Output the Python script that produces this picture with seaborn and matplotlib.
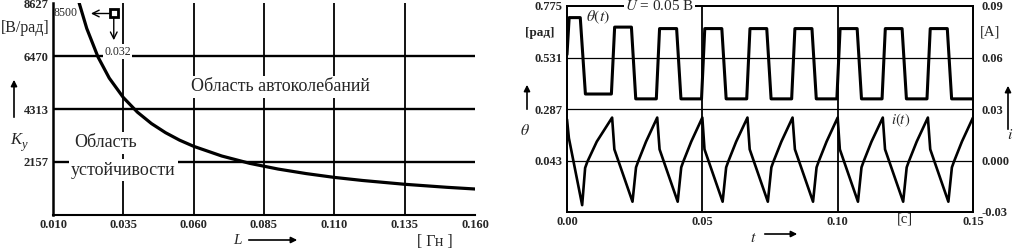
import matplotlib
matplotlib.use("Agg")
import matplotlib.pyplot as plt
import seaborn as sns
import pandas as pd

# --- левый график: K_y(L)
L_vals = [0.0193, 0.0220, 0.0260, 0.0300, 0.0350, 0.0400, 0.0450, 0.0500,
          0.0550, 0.0600, 0.0700, 0.0800, 0.0900, 0.1000, 0.1100, 0.1200,
          0.1350, 0.1500, 0.1600]
K_vals = [8627, 7590, 6430, 5570, 4780, 4185, 3720, 3350,
          3045, 2795, 2400, 2100, 1870, 1685, 1530, 1405,
          1250, 1127, 1058]
L_ticks = [0.010, 0.035, 0.060, 0.085, 0.110, 0.135, 0.160]
K_ticks = [2157, 4313, 6470, 8627]
point_L, point_K = 0.0316, 8200

# --- правый график: theta(t), i(t)
theta_t = [0.0000, 0.0008, 0.0049, 0.0068,
           0.0164, 0.0176, 0.0238, 0.0254,
           0.0330, 0.0342, 0.0405, 0.0421,
           0.0497, 0.0509, 0.0572, 0.0588,
           0.0664, 0.0676, 0.0738, 0.0754,
           0.0830, 0.0842, 0.0905, 0.0921,
           0.0997, 0.1009, 0.1072, 0.1088,
           0.1164, 0.1176, 0.1238, 0.1254,
           0.1330, 0.1342, 0.1405, 0.1421, 0.1500]
theta_v = [0.545, 0.720, 0.720, 0.358,
           0.358, 0.675, 0.675, 0.335,
           0.335, 0.668, 0.668, 0.335,
           0.335, 0.668, 0.668, 0.335,
           0.335, 0.668, 0.668, 0.335,
           0.335, 0.668, 0.668, 0.335,
           0.335, 0.668, 0.668, 0.335,
           0.335, 0.668, 0.668, 0.335,
           0.335, 0.668, 0.668, 0.335, 0.335]
i_t = [0.0000, 0.0007, 0.0056, 0.0067, 0.0075, 0.0110, 0.01667,
       0.0175, 0.0242, 0.0255, 0.0263, 0.0292, 0.03333,
       0.0342, 0.0409, 0.0422, 0.0430, 0.0459, 0.0500,
       0.0508, 0.0575, 0.0588, 0.0596, 0.0625, 0.06667,
       0.0675, 0.0742, 0.0755, 0.0763, 0.0792, 0.08333,
       0.0842, 0.0909, 0.0922, 0.0930, 0.0959, 0.1000,
       0.1008, 0.1075, 0.1088, 0.1096, 0.1125, 0.11667,
       0.1175, 0.1242, 0.1255, 0.1263, 0.1292, 0.13333,
       0.1342, 0.1409, 0.1422, 0.1430, 0.1459, 0.1500]
i_v = [0.024, 0.013, -0.026, -0.0043, -0.0008, 0.011, 0.025,
       0.0065, -0.024, -0.004, -0.0005, 0.011, 0.025,
       0.0065, -0.024, -0.004, -0.0005, 0.011, 0.025,
       0.0065, -0.024, -0.004, -0.0005, 0.011, 0.025,
       0.0065, -0.024, -0.004, -0.0005, 0.011, 0.025,
       0.0065, -0.024, -0.004, -0.0005, 0.011, 0.025,
       0.0065, -0.024, -0.004, -0.0005, 0.011, 0.025,
       0.0065, -0.024, -0.004, -0.0005, 0.011, 0.025,
       0.0065, -0.024, -0.004, -0.0005, 0.011, 0.025]
t_ticks = [0.00, 0.05, 0.10, 0.15]
theta_ticks = [0.043, 0.287, 0.531, 0.775]
i_ticks = [-0.03, 0.00, 0.03, 0.06, 0.09]
i_labels = ['-0.03', '0.000', '0.03', '0.06', '0.09']

sns.set_theme(style="white")
plt.rcParams['font.family'] = ['Liberation Serif', 'DejaVu Serif']
plt.rcParams['mathtext.fontset'] = 'stix'

W, H = 1017, 252
fig = plt.figure(figsize=(W / 100, H / 100), dpi=100)


def px(x, y):
    return x / W, 1 - y / H


tick_font = dict(fontsize=9, fontweight='bold')

# ---------------- левый ----------------
ax = fig.add_axes([53 / W, 37 / H, 422 / W, 212 / H])
df_k = pd.DataFrame({'L': L_vals, 'K': K_vals})
sns.lineplot(data=df_k, x='L', y='K', ax=ax, color='black', lw=2.3, zorder=4)
ax.set_xlim(0.010, 0.160)
ax.set_ylim(0, 8627)
for k in K_ticks[:-1]:
    ax.axhline(k, color='black', lw=1.7, zorder=1)
for l in L_ticks[1:-1]:
    ax.axvline(l, color='black', lw=1.3, zorder=1)
ax.set_xticks(L_ticks)
ax.set_xticklabels([f'{v:.3f}' for v in L_ticks], **tick_font)
ax.set_yticks(K_ticks)
ax.set_yticklabels([str(v) for v in K_ticks], **tick_font)
ax.tick_params(length=0, pad=3)
ax.set_xlabel('')
ax.set_ylabel('')
for s in ['top', 'right']:
    ax.spines[s].set_visible(False)
ax.spines['left'].set_linewidth(1.8)
ax.spines['bottom'].set_linewidth(1.5)
for s in ['left', 'bottom']:
    ax.spines[s].set_color('black')

ax.plot([point_L], [point_K], marker='s', ms=5.5, mfc='white', mec='black',
        mew=2, zorder=6)
ax.annotate('', xy=(0.0225, point_K), xytext=(point_L, point_K),
            arrowprops=dict(arrowstyle='->', lw=1, color='black'), zorder=5)
ax.annotate('', xy=(point_L, 7000), xytext=(point_L, point_K),
            arrowprops=dict(arrowstyle='->', lw=1, color='black'), zorder=5)
ax.text(0.0143, point_K, '8500', fontsize=8.5, ha='center', va='center', zorder=5)
ax.text(0.0330, 6650, '0.032', fontsize=8.5, ha='center', va='center', zorder=5,
        bbox=dict(fc='white', ec='none', pad=1))

box = dict(fc='white', ec='none', pad=1.5)
ax.text(0.0907, 5210, 'Область автоколебаний', fontsize=13, ha='center',
        va='center', bbox=box, zorder=3)
ax.text(0.0287, 2930, 'Область', fontsize=13, ha='center', va='center',
        bbox=box, zorder=3)
ax.text(0.0350, 1830, 'устойчивости', fontsize=13, ha='center', va='center',
        bbox=box, zorder=3)

fig.text(*px(25, 28), '[В/рад]', fontsize=11.5, ha='center', va='center')
fig.text(*px(16, 140), 'K', fontsize=12, style='italic', ha='center', va='center')
fig.text(*px(24, 145), 'у', fontsize=9, style='italic', ha='center', va='center')
fig.text(*px(237, 240), 'L', fontsize=11, style='italic', ha='center', va='center')
fig.text(*px(435, 242), '[ Гн ]', fontsize=11.5, ha='center', va='center')

# ---------------- правый ----------------
ax1 = fig.add_axes([567 / W, 40 / H, 406 / W, 206 / H])
df_th = pd.DataFrame({'t': theta_t, 'theta': theta_v})
sns.lineplot(data=df_th, x='t', y='theta', ax=ax1, color='black', lw=2.2,
             zorder=4)
ax1.set_xlim(0, 0.15)
ax1.set_ylim(-0.201, 0.775)
for v in theta_ticks[:-1]:
    ax1.axhline(v, color='black', lw=0.9, zorder=1)
for v in t_ticks[1:-1]:
    ax1.axvline(v, color='black', lw=1.3, zorder=1)
ax1.set_xticks(t_ticks)
ax1.set_xticklabels([f'{v:.2f}' for v in t_ticks], **tick_font)
ax1.set_yticks(theta_ticks)
ax1.set_yticklabels([f'{v:.3f}' for v in theta_ticks], **tick_font)
ax1.tick_params(length=0, pad=3)
ax1.set_xlabel('')
ax1.set_ylabel('')

ax2 = ax1.twinx()
df_i = pd.DataFrame({'t': i_t, 'i': i_v})
sns.lineplot(data=df_i, x='t', y='i', ax=ax2, color='black', lw=1.9, zorder=4)
ax2.set_ylim(-0.03, 0.09)
ax2.set_yticks(i_ticks)
ax2.set_yticklabels(i_labels, **tick_font)
ax2.tick_params(length=0, pad=6)
ax2.set_ylabel('')
for a in (ax1, ax2):
    for s in a.spines.values():
        s.set_color('black')
        s.set_linewidth(1.3)

ax2.text(0.228, 1.0, '$U$ = 0.05 В', transform=ax2.transAxes, fontsize=11,
         ha='center', va='center', zorder=6, clip_on=False,
         bbox=dict(fc='white', ec='none', pad=1))
fig.text(*px(598, 17), r'$\theta(t)$', fontsize=11.5, ha='center', va='center')
fig.text(*px(901, 120), '$i(t)$', fontsize=10.5, ha='center', va='center')
fig.text(*px(540, 33), '[рад]', fontsize=9.5, fontweight='bold', ha='center',
         va='center')
fig.text(*px(525, 131), r'$\theta$', fontsize=11.5, ha='center', va='center')
fig.text(*px(990, 32), '[A]', fontsize=10.5, ha='center', va='center')
fig.text(*px(1010, 135), '$i$', fontsize=11.5, ha='center', va='center')
fig.text(*px(753, 238), '$t$', fontsize=11.5, ha='center', va='center')
fig.text(*px(905, 219), '[c]', fontsize=10.5, ha='center', va='center')

# стрелки у подписей осей
arrows = [((14, 120), (14, 77)), ((246, 240), (300, 240)),
          ((527, 112), (527, 82)), ((1008, 132), (1008, 83)),
          ((762, 234), (800, 234))]
for (x0, y0), (x1, y1) in arrows:
    fig.add_artist(matplotlib.patches.FancyArrowPatch(
        px(x0, y0), px(x1, y1), transform=fig.transFigure,
        arrowstyle='-|>', mutation_scale=9, lw=1.2, color='black'))

fig.savefig('out.png', dpi=100)
